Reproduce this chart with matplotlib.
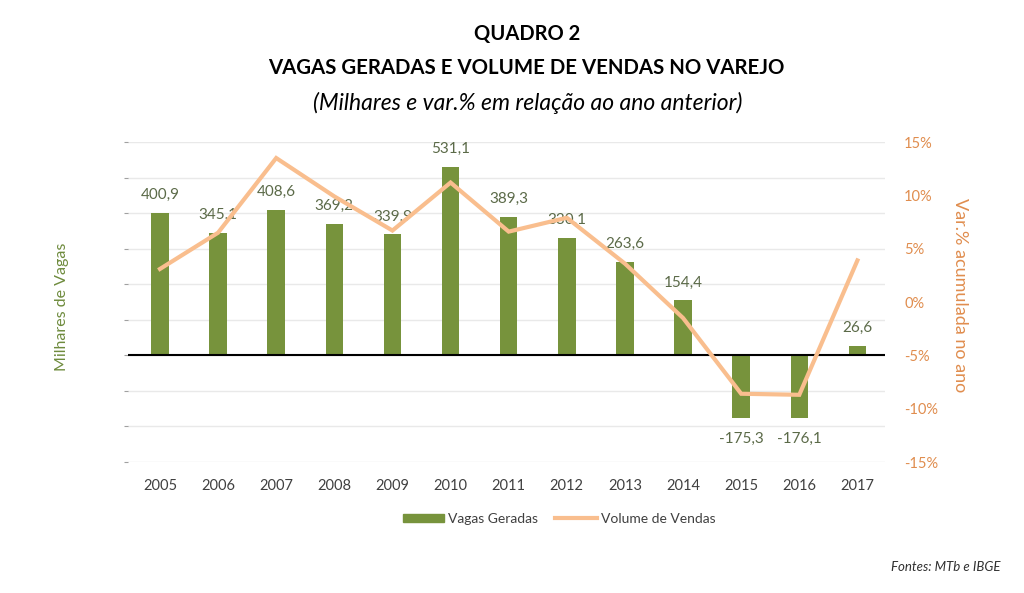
import matplotlib
matplotlib.use("Agg")
import matplotlib.pyplot as plt
import numpy as np
from matplotlib.lines import Line2D
from matplotlib.patches import Patch

plt.rcParams['font.family'] = ['Lato', 'DejaVu Sans']

years = ['2005', '2006', '2007', '2008', '2009', '2010', '2011', '2012', '2013', '2014', '2015', '2016', '2017']
vagas = [400.9, 345.1, 408.6, 369.2, 339.9, 531.1, 389.3, 330.1, 263.6, 154.4, -175.3, -176.1, 26.6]
vendas = [3.1, 6.5, 13.5, 9.9, 6.7, 11.2, 6.6, 7.9, 3.6, -1.5, -8.6, -8.7, 3.9]
right_ticks = [15, 10, 5, 0, -5, -10, -15]

green = '#77933C'
orange_line = '#F9BE8E'
orange_txt = '#E08D4E'

fig = plt.figure(figsize=(10.24, 5.93), dpi=100)
ax = fig.add_axes([0.125, 0.2209, 0.739, 0.5396])
ax2 = ax.twinx()

x = np.arange(len(years))
ax.bar(x, vagas, width=0.3, color=green, zorder=3)
ax.set_ylim(-300, 600)
ax.set_yticks(np.arange(-300, 601, 100))
ax.set_yticklabels([])
ax.tick_params(axis='y', length=3, color='#a0a0a0', width=0.8)
ax.tick_params(axis='x', length=0, labelsize=10.5, labelcolor='#404040', pad=12)
ax.set_xticks(x)
ax.set_xticklabels(years)
ax.set_xlim(-0.55, 12.47)
ax.grid(axis='y', color='#e9e9e9', lw=1, zorder=0)
ax.axhline(0, color='black', lw=1.5, zorder=4)
for s in ['top', 'right', 'left', 'bottom']:
    ax.spines[s].set_visible(False)
    ax2.spines[s].set_visible(False)

for xi, v in zip(x, vagas):
    lab = f'{v:.1f}'.replace('.', ',')
    if v >= 0:
        ax.annotate(lab, (xi, v), xytext=(0, 13), textcoords='offset points',
                    ha='center', va='center', fontsize=11, color='#5B6A48', zorder=6)
    else:
        ax.annotate(lab, (xi, v), xytext=(0, -15), textcoords='offset points',
                    ha='center', va='center', fontsize=11, color='#5B6A48', zorder=6)

ax2.plot(x, vendas, color=orange_line, lw=3, zorder=5, solid_joinstyle='miter')
ax2.set_ylim(-15, 15)
ax2.set_yticks(right_ticks)
ax2.set_yticklabels([f'{t}%' for t in right_ticks])
ax2.tick_params(axis='y', length=0, labelsize=10.5, labelcolor=orange_txt, pad=14)
ax.set_zorder(1)
ax2.set_zorder(2)
ax2.patch.set_visible(False)

fig.text(0.0605, 0.483, 'Milhares de Vagas', rotation=90, ha='center', va='center',
         fontsize=11.5, color='#6E8B3D')
fig.text(0.9375, 0.502, 'Var.% acumulada no ano', rotation=-90, ha='center', va='center',
         fontsize=13, color=orange_txt)

fig.text(0.515, 0.943, 'QUADRO 2', ha='center', va='center', fontsize=14.5, fontweight='bold', color='black')
fig.text(0.514, 0.885, 'VAGAS GERADAS E VOLUME DE VENDAS NO VAREJO', ha='center', va='center',
         fontsize=14.7, fontweight='bold', color='black')
fig.text(0.515, 0.827, '(Milhares e var.% em relação ao ano anterior)', ha='center', va='center',
         fontsize=16.5, style='italic', color='black')

handles = [Patch(facecolor=green, edgecolor=green), Line2D([0], [0], color=orange_line, lw=3)]
fig.legend(handles, ['Vagas Geradas', 'Volume de Vendas'], loc='center', bbox_to_anchor=(0.546, 0.125),
           ncol=2, frameon=False, fontsize=10, handlelength=3, handleheight=0.6, columnspacing=1.2,
           handletextpad=0.3, labelcolor='#404040')

fig.text(0.977, 0.044, 'Fontes: MTb e IBGE', ha='right', va='center', fontsize=9.5, style='italic', color='#303030')

fig.savefig('out.png', dpi=100)
